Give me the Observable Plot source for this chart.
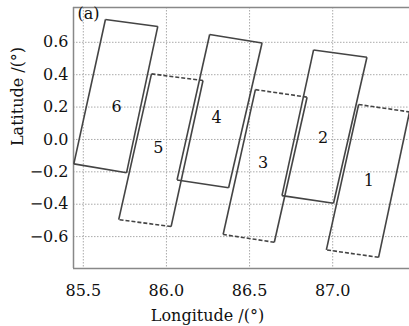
<!DOCTYPE html>
<html>
<head>
<meta charset="utf-8">
<script src="https://cdn.jsdelivr.net/npm/d3@7"></script>
<script src="https://cdn.jsdelivr.net/npm/@observablehq/plot@0.6"></script>
<style>
  html, body { margin: 0; padding: 0; background: #fff; }
  #chart svg { display: block; }
  #chart svg text { font-family: "DejaVu Serif", serif !important; }
</style>
</head>
<body>
<div id="chart"></div>
<script>
// Footprint numbers
const footprintIds = ["1", "2", "3", "4", "5", "6"];
// Corner coordinates (longitude / latitude, degrees)
const topLeftLon     = [87.156, 86.885, 86.535, 86.260, 85.910, 85.633];
const topLeftLat     = [0.216, 0.553, 0.308, 0.648, 0.405, 0.741];
const topRightLon    = [87.462, 87.206, 86.846, 86.575, 86.220, 85.948];
const topRightLat    = [0.170, 0.508, 0.261, 0.596, 0.364, 0.698];
const bottomRightLon = [87.276, 87.005, 86.649, 86.374, 86.028, 85.760];
const bottomRightLat = [-0.728, -0.394, -0.635, -0.298, -0.538, -0.206];
const bottomLeftLon  = [86.962, 86.695, 86.341, 86.064, 85.713, 85.443];
const bottomLeftLat  = [-0.682, -0.347, -0.587, -0.250, -0.495, -0.151];
// Whether the top/bottom edges are dashed
const dashedEnds = [true, false, true, false, true, false];
// Label positions
const labelLon = [87.217, 86.943, 86.582, 86.301, 85.952, 85.700];
const labelLat = [-0.254, 0.012, -0.143, 0.135, -0.050, 0.203];
// Axes
const xTicks = [85.5, 86.0, 86.5, 87.0];
const yTicks = [-0.6, -0.4, -0.2, 0, 0.2, 0.4, 0.6];
const xDomain = [85.441, 87.462];
const yDomain = [-0.797, 0.815];
const xLabel = "Longitude /(°)";
const yLabel = "Latitude /(°)";
const panelLabel = "(a)";

// Build edge segments
const sideEdges = [];
const endEdges = [];
footprintIds.forEach((id, i) => {
  const TL = [topLeftLon[i], topLeftLat[i]];
  const TR = [topRightLon[i], topRightLat[i]];
  const BR = [bottomRightLon[i], bottomRightLat[i]];
  const BL = [bottomLeftLon[i], bottomLeftLat[i]];
  sideEdges.push({a: TR, b: BR}, {a: BL, b: TL});
  endEdges.push({a: TL, b: TR, dashed: dashedEnds[i]}, {a: BR, b: BL, dashed: dashedEnds[i]});
});
const labels = footprintIds.map((id, i) => ({id, lon: labelLon[i], lat: labelLat[i]}));

const font = "DejaVu Serif";
const ink = "#444";

const chart = Plot.plot({
  width: 409,
  height: 326,
  marginLeft: 73,
  marginRight: 0,
  marginTop: 7,
  marginBottom: 58,
  style: {fontFamily: font, fontSize: "16px", color: "#111", background: "#fff"},
  x: {domain: xDomain, ticks: xTicks, tickFormat: d3.format(".1f"), label: null},
  y: {domain: yDomain, ticks: yTicks, label: null},
  marks: [
    Plot.gridX(xTicks, {stroke: "#aaa", strokeOpacity: 1, strokeDasharray: "1.5,1.5"}),
    Plot.gridY(yTicks, {stroke: "#aaa", strokeOpacity: 1, strokeDasharray: "1.5,1.5"}),
    Plot.axisX(xTicks, {tickSize: 0, tickPadding: 16, fontSize: 16, fontFamily: font, tickFormat: d3.format(".1f"), label: null}),
    Plot.axisY(yTicks, {tickSize: 0, tickPadding: 5, fontSize: 16, fontFamily: font, label: null}),
    Plot.ruleX([xDomain[0]], {stroke: "#888", strokeWidth: 1.5}),
    Plot.ruleY(yDomain, {stroke: "#888", strokeWidth: 1.5}),
    Plot.link(sideEdges, {x1: d => d.a[0], y1: d => d.a[1], x2: d => d.b[0], y2: d => d.b[1], stroke: ink, strokeWidth: 1.6, clip: true}),
    Plot.link(endEdges.filter(d => !d.dashed), {x1: d => d.a[0], y1: d => d.a[1], x2: d => d.b[0], y2: d => d.b[1], stroke: ink, strokeWidth: 1.6, clip: true}),
    Plot.link(endEdges.filter(d => d.dashed), {x1: d => d.a[0], y1: d => d.a[1], x2: d => d.b[0], y2: d => d.b[1], stroke: ink, strokeWidth: 1.6, strokeDasharray: "4,2", clip: true}),
    Plot.text(labels, {x: "lon", y: "lat", text: "id", fontSize: 16, fontFamily: font, fill: "#111"}),
    Plot.text([panelLabel], {frameAnchor: "top-left", textAnchor: "start", lineAnchor: "top", dx: 4, dy: 0, fontSize: 16, fontFamily: font, fill: "#111"}),
    Plot.text([xLabel], {frameAnchor: "bottom", lineAnchor: "bottom", dx: -34, dy: 52, fontSize: 16, fontFamily: font, fill: "#111"}),
    Plot.text([yLabel], {frameAnchor: "left", rotate: -90, dx: -56, dy: 8, fontSize: 16, fontFamily: font, fill: "#111"})
  ]
});
document.getElementById("chart").appendChild(chart);
</script>
</body>
</html>
